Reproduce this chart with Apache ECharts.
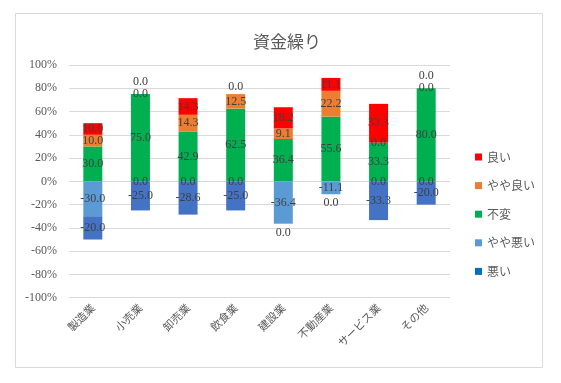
<!DOCTYPE html>
<html><head><meta charset="utf-8">
<script src="https://cdn.jsdelivr.net/npm/echarts@6/dist/echarts.min.js"></script>
<style>html,body{margin:0;padding:0;background:#fff}#c{width:561px;height:383px}</style>
</head><body><div id="c"></div>
<script>
const categories = ['製造業','小売業','卸売業','飲食業','建設業','不動産業','サービス業','その他'];
const good       = [10.0, 0.0, 14.3, 0.0, 18.2, 11.1, 33.3, 0.0];
const ratherGood = [10.0, 0.0, 14.3, 12.5, 9.1, 22.2, 0.0, 0.0];
const same       = [30.0, 75.0, 42.9, 62.5, 36.4, 55.6, 33.3, 80.0];
const ratherBad  = [-30.0, 0.0, 0.0, 0.0, -36.4, -11.1, 0.0, 0.0];
const bad        = [-20.0, -25.0, -28.6, -25.0, 0.0, 0.0, -33.3, -20.0];
const yTicks = [-100,-80,-60,-40,-20,0,20,40,60,80,100];

const chart = echarts.init(document.getElementById('c'));
const lblFont = {fontFamily:'Liberation Serif, DejaVu Serif, serif', fontSize:12, color:'#404040'};
function mk(name, arr, color, zeroLabel, extra){
  return Object.assign({
    name, type:'bar', stack:'s', barWidth:19, itemStyle:{color},
    label:Object.assign({show:true, position:'inside', formatter:p=>Number(p.value).toFixed(1)}, lblFont),
    data: arr.map((v,i) => (v === 0 && zeroLabel) ? {value:v, label:zeroLabel(i)} : v)
  }, extra || {});
}
chart.setOption({
  animation:false,
  graphic:[{type:'rect', shape:{x:15.5,y:13.5,width:527,height:354}, style:{fill:'none', stroke:'#d9d9d9', lineWidth:1}}],
  title:{text:'資金繰り', left:282, top:28, textAlign:'center',
    textStyle:{fontFamily:'Noto Sans CJK JP', fontWeight:'normal', fontSize:17, color:'#595959'}},
  legend:{orient:'vertical', left:470, top:146, itemGap:16.6, itemWidth:7, itemHeight:7,
    textStyle:{fontFamily:'Noto Sans CJK JP', fontSize:12, color:'#595959'},
    data:[{name:'良い', icon:'rect'},{name:'やや良い', icon:'rect'},{name:'不変', icon:'rect'},
          {name:'やや悪い', icon:'rect'},{name:'悪い', icon:'rect', itemStyle:{color:'#0070C0'}}]},
  grid:{left:69, right:111, top:65, bottom:85.3},
  xAxis:{type:'category', data:categories,
    axisLine:{show:false}, axisTick:{show:false},
    axisLabel:{rotate:45, interval:0, fontFamily:'Noto Sans CJK JP', fontSize:11, color:'#595959', margin:8}},
  yAxis:{type:'value', min:-100, max:100, interval:20,
    axisLabel:{formatter:v=>v+'%', fontFamily:'Liberation Serif, DejaVu Serif, serif', fontSize:12, color:'#595959', margin:12},
    splitLine:{lineStyle:{color:'#d9d9d9'}}},
  series:[
    mk('不変', same, '#00B050'),
    mk('やや良い', ratherGood, '#ED7D31'),
    mk('良い', good, '#FF0000', i => ({position:'top', distance: ratherGood[i] === 0 ? 6 : 1})),
    mk('やや悪い', ratherBad, '#5B9BD5', null, {stackStrategy:'negative'}),
    mk('悪い', bad, '#4472C4', i => ({position:'bottom', distance:3}))
  ]
});
</script></body></html>
